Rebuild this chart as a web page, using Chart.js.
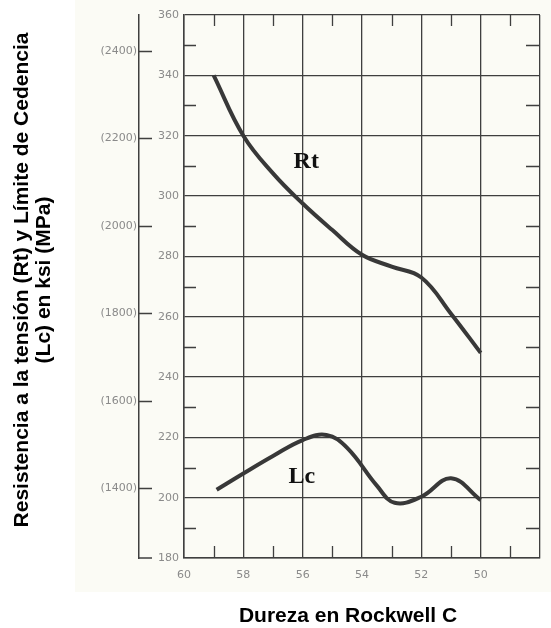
<!DOCTYPE html>
<html lang="es">
<head>
  <meta charset="UTF-8" />
  <title>Resistencia y límite de cedencia vs dureza Rockwell C</title>
  <script src="https://cdn.jsdelivr.net/npm/chart.js"></script>
  <style>
    html, body { margin: 0; padding: 0; background: #fff; }
    #wrap { position: relative; width: 551px; height: 628px; }
  </style>
</head>
<body>
<div id="wrap"><canvas id="durezaChart"></canvas></div>
<script>
  // Rt: resistencia a la tension (ksi) segun dureza HRC
  const durezaRt = [59, 58, 57, 56, 55, 54, 53, 52, 51, 50];
  const rtKsi = [340, 320, 307.5, 297.5, 288.7, 280.5, 276.6, 273, 261, 248];

  // Lc: limite de cedencia (ksi)
  const durezaLc = [58.9, 58, 57, 56, 55.2, 54.5, 53.5, 52.9, 52, 51, 50];
  const lcKsi = [202.6, 208, 213.8, 219.1, 220.8, 216.5, 204, 198.3, 200.3, 206.4, 199.2];

  // ejes
  const hrcTicks = [60, 58, 56, 54, 52, 50, 48];
  const hrcMinor = [59, 57, 55, 53, 51, 49];
  const ksiMinor = [190, 210, 230, 250, 270, 290, 310, 330, 350];
  const mpaTicks = [1400, 1600, 1800, 2000, 2200, 2400];
  const KSI_A_MPA = 6.895;

  const gridColor = '#3f3f3f';
  const curveColor = '#383838';
  const tickFont = { family: 'DejaVu Sans', size: 11 };

  const detalles = {
    id: 'detalles',
    beforeDraw(chart) {
      const ctx = chart.ctx;
      ctx.save();
      ctx.fillStyle = '#fbfbf5';
      ctx.fillRect(75, 0, 476, 592);
      ctx.restore();
    },
    afterDraw(chart) {
      const { ctx, chartArea: a, scales: { x, y, y2 } } = chart;
      ctx.save();
      ctx.strokeStyle = gridColor;
      ctx.lineWidth = 1.3;
      ctx.beginPath();
      hrcMinor.forEach(v => {
        const px = Math.round(x.getPixelForValue(v)) + 0.5;
        ctx.moveTo(px, a.top); ctx.lineTo(px, a.top + 11);
        ctx.moveTo(px, a.bottom); ctx.lineTo(px, a.bottom - 12);
      });
      ksiMinor.forEach(v => {
        const py = Math.round(y.getPixelForValue(v)) + 0.5;
        ctx.moveTo(a.left, py); ctx.lineTo(a.left + 12, py);
        ctx.moveTo(a.right, py); ctx.lineTo(a.right - 14, py);
      });
      mpaTicks.forEach(v => {
        const py = Math.round(y2.getPixelForValue(v)) + 0.5;
        ctx.moveTo(y2.right, py); ctx.lineTo(y2.right + 13, py);
      });
      ctx.moveTo(y2.right, y2.bottom); ctx.lineTo(y2.right + 13, y2.bottom);
      ctx.stroke();

      // etiquetas de curvas
      ctx.fillStyle = '#111';
      ctx.font = 'bold 24px "Liberation Serif", "Times New Roman", serif';
      ctx.textAlign = 'center';
      ctx.textBaseline = 'alphabetic';
      ctx.fillText('Rt', x.getPixelForValue(55.88), y.getPixelForValue(309.3));
      ctx.fillText('Lc', x.getPixelForValue(56.03), y.getPixelForValue(204.9));

      // titulos de ejes
      ctx.fillStyle = '#000';
      ctx.font = 'bold 21px "Liberation Sans", Arial, sans-serif';
      ctx.fillText('Dureza en Rockwell C', 348, 622);
      ctx.translate(0, 280);
      ctx.rotate(-Math.PI / 2);
      ctx.fillText('Resistencia a la tensión (Rt) y Límite de Cedencia', 0, 28);
      ctx.fillText('(Lc) en ksi (MPa)', 0, 50);
      ctx.restore();
    }
  };

  new Chart(document.getElementById('durezaChart'), {
    type: 'line',
    data: {
      datasets: [
        {
          label: 'Rt',
          data: durezaRt.map((v, i) => ({ x: v, y: rtKsi[i] })),
          borderColor: curveColor,
          borderWidth: 4,
          pointRadius: 0,
          tension: 0.4,
          fill: false
        },
        {
          label: 'Lc',
          data: durezaLc.map((v, i) => ({ x: v, y: lcKsi[i] })),
          borderColor: curveColor,
          borderWidth: 4,
          pointRadius: 0,
          tension: 0.4,
          fill: false
        }
      ]
    },
    options: {
      responsive: true,
      maintainAspectRatio: false,
      animation: false,
      layout: { padding: { top: 15, right: 4, left: 0, bottom: 0 } },
      plugins: { legend: { display: false }, tooltip: { enabled: false } },
      scales: {
        x: {
          type: 'linear',
          reverse: true,
          min: 48,
          max: 60,
          afterBuildTicks: s => { s.ticks = hrcTicks.map(v => ({ value: v })); },
          afterFit: s => { s.height = 70; },
          ticks: {
            callback: v => (v === 48 ? '' : v),
            color: '#8a8a8a',
            font: tickFont,
            padding: 11,
            maxRotation: 0,
            autoSkip: false
          },
          grid: { color: gridColor, lineWidth: 1.3, drawTicks: false },
          border: { color: gridColor, width: 1.5 }
        },
        y: {
          position: 'left',
          weight: 0,
          min: 180,
          max: 360,
          afterFit: s => { s.width = 45; },
          ticks: { stepSize: 20, color: '#8a8a8a', font: tickFont, padding: 5 },
          grid: { color: gridColor, lineWidth: 1.3, drawTicks: false },
          border: { color: gridColor, width: 1.5 }
        },
        y2: {
          position: 'left',
          weight: 1,
          min: 180 * KSI_A_MPA,
          max: 360 * KSI_A_MPA,
          afterBuildTicks: s => { s.ticks = mpaTicks.map(v => ({ value: v })); },
          afterFit: s => { s.width = 139; },
          ticks: {
            callback: v => '(' + v + ')',
            color: '#8a8a8a',
            font: tickFont,
            padding: 2
          },
          grid: { display: false, drawTicks: false },
          border: { display: true, color: gridColor, width: 1.5 }
        }
      }
    },
    plugins: [detalles]
  });
</script>
</body>
</html>
